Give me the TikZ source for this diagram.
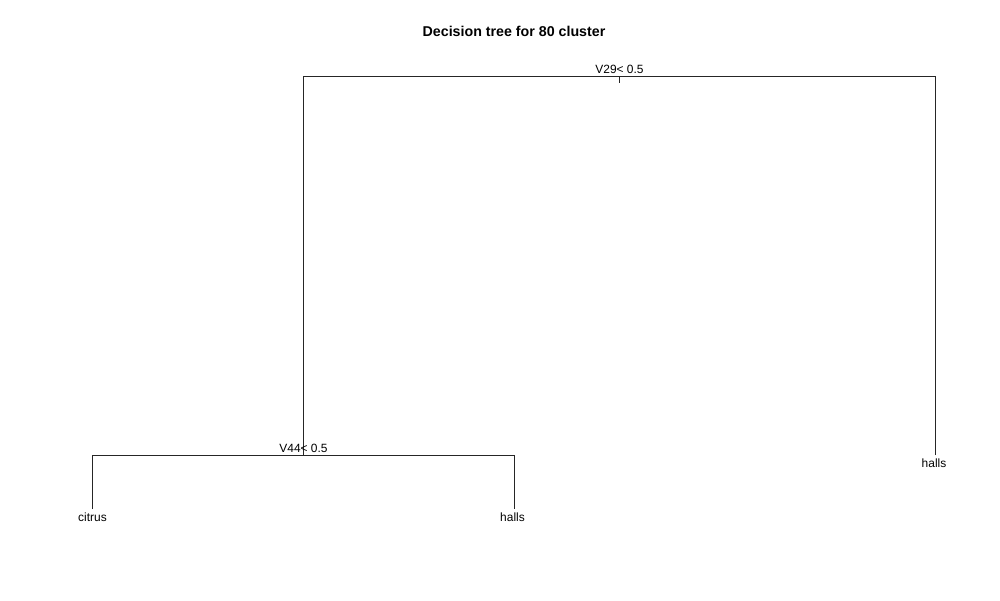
\documentclass[tikz,border=0pt]{standalone}
\usepackage{fontspec}
\setmainfont{Liberation Sans}
\begin{document}
\begin{tikzpicture}[x=0.02cm,y=-0.02cm,
  edge/.style={draw=black!85,line width=0.55pt},
  lbl/.style={inner sep=0pt,anchor=base,font=\fontsize{6.8pt}{8pt}\selectfont},
  ttl/.style={inner sep=0pt,anchor=base,font=\fontsize{8.1pt}{9pt}\selectfont\bfseries}]
\useasboundingbox[fill=white] (0,0) rectangle (1000,600);
\node[ttl] (title) at (514,36) {Decision tree for 80 cluster};
% split points
\coordinate (root) at (619,76);
\coordinate (roottick) at (619,83);
\coordinate (rl) at (303,76);
\coordinate (rr) at (935,76);
\coordinate (n2) at (303,455);
\coordinate (n2l) at (92,455);
\coordinate (n2r) at (514,455);
\coordinate (leafR) at (935,455);
\coordinate (leafA) at (92,509);
\coordinate (leafB) at (514,509);
\draw[edge] (root) -- (roottick);
\draw[edge] (leafR) -- (rr) -- (rl) -- (n2);
\draw[edge] (leafA) -- (n2l) -- (n2r) -- (leafB);
\node[lbl] (s1) at (619.5,73.5) {V29< 0.5};
\node[lbl] (s2) at (303.5,452.5) {V44< 0.5};
\node[lbl] (h1) at (934,467) {halls};
\node[lbl] (c1) at (92.5,521) {citrus};
\node[lbl] (h2) at (512.5,521) {halls};
\end{tikzpicture}
\end{document}
